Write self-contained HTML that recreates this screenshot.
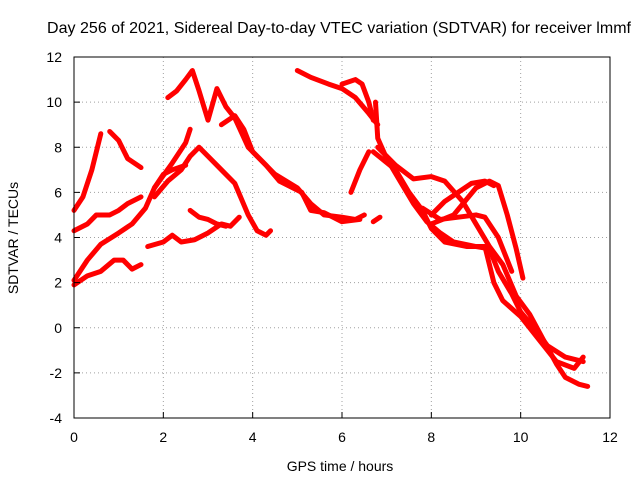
<!DOCTYPE html>
<html><head><meta charset="utf-8"><style>
body{margin:0;background:#fff}
svg{display:block;font-family:"Liberation Sans",sans-serif;}
</style></head><body>
<svg id="chart" width="640" height="480">
<text x="339" y="33" text-anchor="middle" font-size="16" textLength="584">Day 256 of 2021, Sidereal Day-to-day VTEC variation (SDTVAR) for receiver lmmf</text>
<text x="340" y="471" text-anchor="middle" font-size="14">GPS time / hours</text>
<text transform="translate(18,238) rotate(-90)" text-anchor="middle" font-size="14">SDTVAR / TECUs</text>
<g id="grid"></g><g id="marks"></g><g id="axes"></g>
</svg>
<script>
const xTicks=[0,2,4,6,8,10,12];
const yTicks=[-4,-2,0,2,4,6,8,10,12];
const s1=[[0,5.2],[0.2,5.8],[0.4,7.0],[0.6,8.6]];
const s2=[[0,4.3],[0.3,4.6],[0.5,5.0],[0.8,5.0],[1.0,5.2],[1.2,5.5],[1.5,5.8]];
const s3=[[0,2.1],[0.3,3.0],[0.6,3.7],[1.0,4.2],[1.3,4.6],[1.6,5.3],[1.8,6.2],[2.0,6.8],[2.2,7.0],[2.5,7.2]];
const s4=[[0,1.9],[0.3,2.3],[0.6,2.5],[0.9,3.0],[1.1,3.0],[1.3,2.6],[1.5,2.8]];
const s5=[[0.8,8.7],[1.0,8.3],[1.2,7.5],[1.5,7.1]];
const s6=[[1.65,3.6],[2.0,3.8],[2.2,4.1],[2.4,3.8],[2.7,3.9],[3.0,4.2],[3.3,4.6],[3.5,4.5],[3.7,4.9]];
const s7=[[2.1,10.2],[2.3,10.5],[2.5,11.0],[2.65,11.4],[2.8,10.5],[3.0,9.2],[3.2,10.6],[3.4,9.8],[3.6,9.3],[3.9,8.0],[4.2,7.4],[4.5,6.8],[5.0,6.2],[5.3,5.5],[5.6,5.0],[6.0,4.9],[6.3,4.8],[6.5,5.0]];
const s8=[[1.8,6.2],[2.2,7.3],[2.5,8.2],[2.6,8.8]];
const s9=[[1.8,5.8],[2.1,6.5],[2.4,7.0],[2.6,7.6],[2.8,8.0],[3.0,7.6],[3.3,7.0],[3.6,6.4],[3.9,5.0],[4.1,4.3],[4.3,4.1],[4.4,4.3]];
const s10=[[2.6,5.2],[2.8,4.9],[3.0,4.8],[3.2,4.6],[3.4,4.5]];
const s11=[[3.3,9.0],[3.6,9.4],[3.8,8.8],[4.0,7.8],[4.3,7.2],[4.6,6.5],[4.9,6.2],[5.1,6.0],[5.3,5.2],[5.6,5.1],[6.0,4.7],[6.4,4.8]];
const s12=[[5.0,11.4],[5.3,11.1],[5.7,10.8],[6.0,10.6],[6.3,10.2],[6.6,9.5],[6.8,9.0]];
const s13=[[6.0,10.8],[6.3,11.0],[6.45,10.8],[6.6,10.0],[6.7,9.2]];
const s14=[[6.2,6.0],[6.4,7.0],[6.6,7.8]];
const s15=[[6.7,4.7],[6.85,4.9]];
const s16=[[6.75,10.0],[6.8,8.4],[7.0,7.5],[7.3,6.5],[7.6,5.5],[7.9,4.7],[8.2,4.2],[8.5,3.8],[9.0,3.6],[9.3,3.5],[9.5,2.5],[9.8,1.5],[10.0,0.7],[10.3,0.0],[10.6,-0.8],[11.0,-1.3],[11.4,-1.5]];
const s17=[[6.7,7.8],[7.2,7.0],[7.5,6.0],[7.8,5.2],[8.0,4.4],[8.3,3.8],[8.8,3.6],[9.2,3.6],[9.4,2.0],[9.6,1.2],[10.0,0.5],[10.4,-0.5],[10.8,-1.5],[11.2,-1.8],[11.4,-1.3]];
const s18=[[6.8,8.0],[7.2,7.2],[7.6,6.6],[8.0,6.7],[8.3,6.5],[8.7,5.6],[9.0,4.6],[9.3,3.6],[9.6,2.8],[9.9,1.4],[10.2,0.6],[10.5,-0.5],[10.8,-1.6],[11.0,-2.2],[11.3,-2.5],[11.5,-2.6]];
const s19=[[8.0,4.6],[8.5,5.0],[9.0,6.2],[9.3,6.5],[9.5,6.3],[9.7,5.0],[9.9,3.5],[10.05,2.2]];
const s20=[[7.8,5.3],[8.2,4.8],[8.6,4.9],[9.0,5.0],[9.2,4.9],[9.5,4.0],[9.8,2.5]];
const s21=[[8.0,5.0],[8.3,5.6],[8.6,6.0],[8.9,6.4],[9.2,6.5],[9.4,6.3]];
const series=[s1,s2,s3,s4,s5,s6,s7,s8,s9,s10,s11,s12,s13,s14,s15,s16,s17,s18,s19,s20,s21];

const L=74,R=610,T=57,B=418;
const X=v=>L+(v-0)/12*(R-L);
const Y=v=>B-(v+4)/16*(B-T);
const NS="http://www.w3.org/2000/svg";
function mk(tag,attrs,parent){const e=document.createElementNS(NS,tag);for(const k in attrs)e.setAttribute(k,attrs[k]);parent.appendChild(e);return e;}
const grid=document.getElementById('grid'),axes=document.getElementById('axes'),marks=document.getElementById('marks');
xTicks.forEach(t=>{
  if(t>0&&t<12){const g=mk('line',{x1:X(t),x2:X(t),y1:T,y2:B,stroke:'#a0a0a0','stroke-dasharray':'1,3'},grid);
  
  }
  const tk=mk('line',{x1:X(t),x2:X(t),y1:B,y2:B-6,stroke:'#000'},axes);
  
  
  const tx=mk('text',{x:X(t),y:B+24,'text-anchor':'middle','font-size':14},axes);tx.textContent=t;
  
  
});
yTicks.forEach(t=>{
  if(t>-4&&t<12){const g=mk('line',{x1:L,x2:R,y1:Y(t),y2:Y(t),stroke:'#a0a0a0','stroke-dasharray':'1,3'},grid);
  
  }
  const tk=mk('line',{x1:L,x2:L+6,y1:Y(t),y2:Y(t),stroke:'#000'},axes);
  
  
  const tx=mk('text',{x:L-12,y:Y(t)+5,'text-anchor':'end','font-size':14},axes);tx.textContent=t;
  
  
});
const frame=mk('rect',{x:L,y:T,width:R-L,height:B-T,fill:'none',stroke:'#000'},axes);


series.forEach((s,i)=>{
  const p=mk('polyline',{points:s.map(d=>X(d[0])+','+Y(d[1])).join(' '),fill:'none',stroke:'#f00','stroke-width':5,'stroke-linejoin':'round','stroke-linecap':'round'},marks);
  
  
});
</script>
</body></html>
